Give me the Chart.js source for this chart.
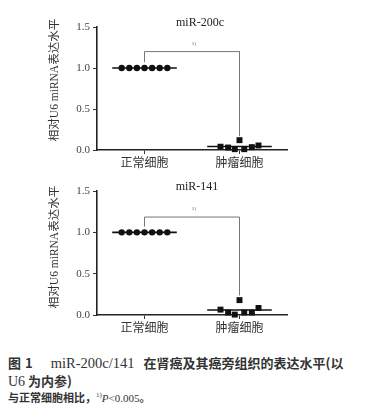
<!DOCTYPE html>
<html><head><meta charset="utf-8">
<script src="https://cdn.jsdelivr.net/npm/chart.js@4"></script>
<style>
html,body{margin:0;padding:0;background:#fff;width:370px;height:411px;overflow:hidden;}
canvas{position:absolute;left:0;}
#c1{top:0;} #c2{top:170px;}
.cap{position:absolute;left:8px;color:#333;font-family:"Noto Sans CJK SC","Liberation Serif",serif;white-space:nowrap;}
#l1{top:353px;font-size:13px;font-weight:bold;}
#l2{top:371px;font-size:13px;font-weight:bold;}
#l3{top:389px;font-size:11px;font-weight:bold;}
.ser{font-family:"Liberation Serif",serif;font-weight:normal;}
</style></head><body>
<canvas id="c1" width="370" height="170"></canvas>
<canvas id="c2" width="370" height="170"></canvas>
<div class="cap" id="l1">图<span style="margin-left:4px">1</span><span class="ser" style="font-size:14.5px;margin-left:18px">miR-200c/141</span><span style="margin-left:9px">在肾癌及其癌旁组织的表达水平(以</span></div>
<div class="cap" id="l2"><span class="ser" style="font-size:14px">U6</span> 为内参)</div>
<div class="cap" id="l3">与正常细胞相比，<sup style="font-size:7px" class="ser">1)</sup><i class="ser">P</i><span class="ser">&lt;0.005</span>。</div>
<script>
const categories = ['正常细胞', '肿瘤细胞'];
const yTickValues = [0, 0.5, 1.0, 1.5];
const yTitle = '相对U6 miRNA表达水平';
const chartTitles = ['miR-200c', 'miR-141'];
const sigLabel = '1)';
const normalOffsets = [-0.24, -0.16, -0.08, 0, 0.08, 0.16, 0.24];
const tumorOffsets = [-0.2, -0.12, -0.05, 0, 0.05, 0.13, 0.2];
const miR200cNormal = [1, 1, 1, 1, 1, 1, 1];
const miR200cTumor = [0.04, 0.03, 0.01, 0.12, 0.01, 0.035, 0.055];
const miR141Normal = [1, 1, 1, 1, 1, 1, 1];
const miR141Tumor = [0.065, 0.03, 0.005, 0.18, 0.03, 0.03, 0.085];
const bracketLevel = [1.2, 1.185];
const bracketLeftEnd = [1.07, 1.07];
const bracketRightEnd = [0.17, 0.24];

const mean = a => a.reduce((s, v) => s + v, 0) / a.length;

function makeChart(id, idx, normal, tumor, cfg) {
  const pts = (vals, offs, c) => vals.map((v, i) => ({x: c + offs[i], y: v}));
  const meanLine = (vals, c) => [{x: c - 0.34, y: mean(vals)}, {x: c + 0.34, y: mean(vals)}];
  const textPlugin = {
    id: 'texts',
    afterDraw(chart) {
      const ctx = chart.ctx;
      const xs = chart.scales.x, ys = chart.scales.y;
      ctx.save();
      ctx.fillStyle = '#222';
      ctx.textAlign = 'center';
      ctx.textBaseline = 'middle';
      ctx.font = '12px "Liberation Serif", serif';
      ctx.fillText(chartTitles[idx], cfg.titleX, cfg.titleY);
      ctx.font = '5px "Liberation Serif", serif';
      ctx.fillStyle = '#555';
      ctx.fillText(sigLabel, xs.getPixelForValue(1.52), ys.getPixelForValue(bracketLevel[idx]) - 8);
      ctx.translate(55, cfg.yTitleY);
      ctx.rotate(-Math.PI / 2);
      ctx.fillStyle = '#333';
      ctx.font = '11.5px "Liberation Serif", "Noto Sans CJK SC", serif';
      ctx.fillText(yTitle, 0, 0);
      ctx.restore();
    }
  };
  return new Chart(document.getElementById(id), {
    type: 'scatter',
    data: {
      datasets: [
        {data: meanLine(normal, 1), showLine: true, borderColor: '#111', borderWidth: 1.6, pointRadius: 0, order: 2},
        {data: meanLine(tumor, 2), showLine: true, borderColor: '#111', borderWidth: 1.6, pointRadius: 0, order: 2},
        {data: [{x: 1, y: bracketLeftEnd[idx]}, {x: 1, y: bracketLevel[idx]}, {x: 2, y: bracketLevel[idx]}, {x: 2, y: bracketRightEnd[idx]}],
         showLine: true, borderColor: '#777', borderWidth: 1, pointRadius: 0, order: 3},
        {data: pts(normal, normalOffsets, 1), pointStyle: 'circle', pointRadius: 3.2, backgroundColor: '#111', borderColor: '#111', borderWidth: 0, order: 1},
        {data: pts(tumor, tumorOffsets, 2), pointStyle: 'rect', pointRadius: 4.2, backgroundColor: '#111', borderColor: '#111', borderWidth: 0, order: 1}
      ]
    },
    options: {
      responsive: false, animation: false, devicePixelRatio: 1,
      clip: false,
      layout: {padding: {top: cfg.top, right: 83, left: 0, bottom: 0}},
      plugins: {legend: {display: false}, tooltip: {enabled: false}},
      scales: {
        x: {
          type: 'linear', min: 0.5, max: 2.5,
          afterBuildTicks: s => { s.ticks = [{value: 1}, {value: 2}]; },
          afterFit: s => { s.height = cfg.xh; },
          ticks: {callback: v => categories[v - 1], color: '#333', padding: 1,
                  font: {family: '"Noto Sans CJK SC", serif', size: 12}},
          grid: {drawOnChartArea: false, tickLength: 4, color: '#333', lineWidth: 1},
          border: {color: '#222', width: 1.6}
        },
        y: {
          min: 0, max: 1.5,
          afterBuildTicks: s => { s.ticks = yTickValues.map(v => ({value: v})); },
          afterFit: s => { s.width = 97; },
          ticks: {callback: v => v.toFixed(1), color: '#444', padding: 3,
                  font: {family: '"Liberation Serif", serif', size: 11}},
          grid: {drawOnChartArea: false, tickLength: 4, color: '#333', lineWidth: 1},
          border: {color: '#222', width: 1.6}
        }
      }
    },
    plugins: [textPlugin]
  });
}

makeChart('c1', 0, miR200cNormal, miR200cTumor, {top: 27, xh: 20, titleX: 200, titleY: 23, yTitleY: 80});
makeChart('c2', 1, miR141Normal, miR141Tumor, {top: 21, xh: 25, titleX: 197, titleY: 17, yTitleY: 77});
</script>
</body></html>
